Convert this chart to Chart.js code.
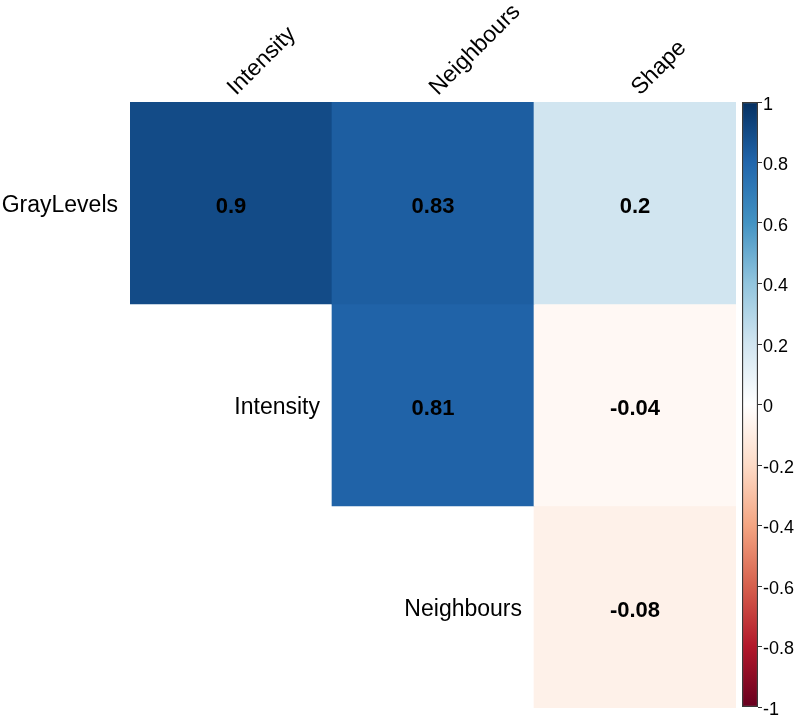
<!DOCTYPE html>
<html>
<head>
<meta charset="utf-8">
<title>Correlation matrix</title>
<script src="https://cdn.jsdelivr.net/npm/chart.js@4/dist/chart.umd.min.js"></script>
<style>
  html, body { margin: 0; padding: 0; background: #ffffff; }
  #wrap { position: relative; width: 795px; height: 720px; }
  #matrix { position: absolute; left: 0; top: 0; }
  #colorbar { position: absolute; left: 736px; top: 0; }
</style>
</head>
<body>
<div id="wrap">
  <canvas id="matrix" width="795" height="720"></canvas>
  <canvas id="colorbar" width="59" height="720"></canvas>
</div>
<script>
// Variables along the top and down the side (upper triangle, diagonal omitted)
const columns = ['Intensity', 'Neighbours', 'Shape'];
const rows = ['GrayLevels', 'Intensity', 'Neighbours'];

// Correlation coefficients, one array per row
const rowGrayLevels = [0.9, 0.83, 0.2];
const rowIntensity = [null, 0.81, -0.04];
const rowNeighbours = [null, null, -0.08];

// Colour-bar tick labels
const legendTicks = [1, 0.8, 0.6, 0.4, 0.2, 0, -0.2, -0.4, -0.6, -0.8, -1];

// Diverging red-white-blue palette from -1 to 1 in steps of 0.2
const palette = ['#67001F', '#B2182B', '#D6604D', '#F4A582', '#FDDBC7', '#FFFFFF',
                 '#D1E5F0', '#92C5DE', '#4393C3', '#2166AC', '#053061'];

const FONT = '"Liberation Sans", Arial, Helvetica, sans-serif';

function hexToRgb(h) {
  const n = parseInt(h.slice(1), 16);
  return [(n >> 16) & 255, (n >> 8) & 255, n & 255];
}

function colorFor(v) {
  const t = (v + 1) / 2 * (palette.length - 1);
  const i = Math.min(Math.floor(t), palette.length - 2);
  const f = t - i;
  const a = hexToRgb(palette[i]), b = hexToRgb(palette[i + 1]);
  const c = a.map((x, k) => Math.round(x + (b[k] - x) * f));
  return `rgb(${c[0]},${c[1]},${c[2]})`;
}

const rowValues = [rowGrayLevels, rowIntensity, rowNeighbours];

// Each row becomes a dataset of floating bars spanning one row band of the y scale
const datasets = rowValues.map((vals, r) => ({
  label: rows[r],
  values: vals,
  data: vals.map(v => v == null ? null : [rows.length - r - 1, rows.length - r]),
  backgroundColor: vals.map(v => v == null ? 'rgba(0,0,0,0)' : colorFor(v)),
  borderWidth: 0,
  grouped: false,
  barPercentage: 1,
  categoryPercentage: 1
}));

// Coefficients in the cells plus row / column names
const matrixLabels = {
  id: 'matrixLabels',
  afterDatasetsDraw(chart) {
    const ctx = chart.ctx;
    const xs = chart.scales.x, ys = chart.scales.y;
    const cellW = xs.getPixelForValue(1) - xs.getPixelForValue(0);
    ctx.save();

    // cell values
    ctx.fillStyle = '#000000';
    ctx.font = 'bold 22px ' + FONT;
    ctx.textAlign = 'center';
    ctx.textBaseline = 'middle';
    chart.data.datasets.forEach((ds, di) => {
      const meta = chart.getDatasetMeta(di);
      meta.data.forEach((bar, j) => {
        const v = ds.values[j];
        if (v == null) return;
        const p = bar.getCenterPoint();
        ctx.fillText(String(v), p.x, p.y + 4);
      });
    });

    // row names, placed just left of each row's first cell
    ctx.font = '23px ' + FONT;
    ctx.textAlign = 'right';
    ctx.textBaseline = 'middle';
    rows.forEach((name, r) => {
      const x = xs.getPixelForValue(r) - cellW / 2 - 12;
      const y = ys.getPixelForValue(rows.length - r - 0.5) + 3;
      ctx.fillText(name, x, y);
    });

    // column names, rotated 45 degrees above the grid
    ctx.textAlign = 'left';
    ctx.textBaseline = 'alphabetic';
    columns.forEach((name, c) => {
      const x = xs.getPixelForValue(c) + 5;
      const y = chart.chartArea.top - 6;
      ctx.save();
      ctx.translate(x, y);
      ctx.rotate(-Math.PI / 4);
      ctx.fillText(name, 0, 0);
      ctx.restore();
    });
    ctx.restore();
  }
};

new Chart(document.getElementById('matrix'), {
  type: 'bar',
  data: { labels: columns, datasets },
  options: {
    responsive: false,
    animation: false,
    devicePixelRatio: 1,
    layout: { padding: { left: 130, right: 59, top: 102, bottom: 12 } },
    scales: {
      x: { display: false },
      y: { display: false, min: 0, max: rows.length }
    },
    plugins: { legend: { display: false }, tooltip: { enabled: false } }
  },
  plugins: [matrixLabels]
});

// Colour key: a single floating bar from -1 to 1 filled with the palette
new Chart(document.getElementById('colorbar'), {
  type: 'bar',
  data: {
    labels: [''],
    datasets: [{
      data: [[-1, 1]],
      backgroundColor(context) {
        const chart = context.chart;
        const ys = chart.scales.y;
        if (!chart.chartArea || !ys) return palette[5];
        const g = chart.ctx.createLinearGradient(0, ys.getPixelForValue(-1), 0, ys.getPixelForValue(1));
        palette.forEach((c, i) => g.addColorStop(i / (palette.length - 1), c));
        return g;
      },
      borderColor: '#3a3a3a',
      borderWidth: 1.5,
      borderSkipped: false,
      barPercentage: 1,
      categoryPercentage: 1
    }]
  },
  options: {
    responsive: false,
    animation: false,
    devicePixelRatio: 1,
    layout: { padding: { left: 6, right: 0, top: 102, bottom: 13 } },
    scales: {
      x: { display: false },
      y: {
        position: 'right',
        min: -1,
        max: 1,
        afterBuildTicks(scale) { scale.ticks = legendTicks.map(v => ({ value: v })); },
        afterFit(scale) { scale.width = 37; },
        ticks: {
          callback: v => String(v),
          color: '#000000',
          font: { family: FONT, size: 18 },
          padding: 1,
          labelOffset: 3
        },
        grid: { drawOnChartArea: false, drawTicks: true, tickLength: 4, color: '#333333' },
        border: { display: false }
      }
    },
    plugins: { legend: { display: false }, tooltip: { enabled: false } }
  }
});
</script>
</body>
</html>
